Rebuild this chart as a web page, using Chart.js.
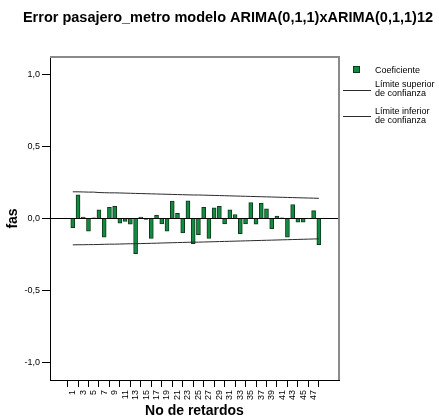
<!DOCTYPE html>
<html>
<head>
<meta charset="utf-8">
<script src="https://cdn.jsdelivr.net/npm/chart.js@4/dist/chart.umd.min.js"></script>
<style>
  html, body { margin: 0; padding: 0; background: #fff; }
  #wrap { width: 439px; height: 416px; position: relative; }
</style>
</head>
<body>
<div id="wrap"><canvas id="myChart" width="439" height="416"></canvas></div>
<script>
// DATA
var lags = [1, 2, 3, 4, 5, 6, 7, 8, 9, 10, 11, 12, 13, 14, 15, 16, 17, 18, 19, 20, 21, 22, 23, 24,
  25, 26, 27, 28, 29, 30, 31, 32, 33, 34, 35, 36, 37, 38, 39, 40, 41, 42, 43, 44, 45, 46, 47, 48];
var coefValues = [-0.064, 0.164, 0.010, -0.088, 0.004, 0.060, -0.130, 0.078, 0.085, -0.032, -0.020, -0.039,
  -0.244, 0.010, -0.007, -0.138, 0.023, -0.037, -0.088, 0.120, 0.035, -0.100, 0.122, -0.175,
  -0.113, 0.078, -0.138, 0.074, 0.085, -0.037, 0.060, 0.028, -0.106, -0.037, 0.110, -0.040,
  0.106, 0.067, -0.071, 0.016, 0.004, -0.130, 0.097, -0.025, -0.025, 0.003, 0.055, -0.182];
var upperValues = [0.185, 0.185, 0.184, 0.183, 0.183, 0.180, 0.179, 0.178, 0.178, 0.177, 0.176, 0.175,
  0.174, 0.173, 0.172, 0.171, 0.170, 0.169, 0.168, 0.167, 0.166, 0.165, 0.164, 0.163,
  0.163, 0.162, 0.161, 0.160, 0.159, 0.158, 0.157, 0.156, 0.155, 0.154, 0.153, 0.152,
  0.151, 0.150, 0.149, 0.148, 0.147, 0.146, 0.145, 0.144, 0.143, 0.142, 0.141, 0.140];
var lowerValues = [-0.183, -0.182, -0.182, -0.181, -0.181, -0.180, -0.179, -0.178, -0.178, -0.177, -0.176, -0.175,
  -0.175, -0.174, -0.173, -0.172, -0.171, -0.170, -0.169, -0.168, -0.167, -0.166, -0.165, -0.164,
  -0.164, -0.163, -0.162, -0.161, -0.160, -0.159, -0.158, -0.157, -0.156, -0.155, -0.154, -0.153,
  -0.152, -0.151, -0.150, -0.149, -0.148, -0.147, -0.146, -0.145, -0.144, -0.143, -0.142, -0.141];
var xTickLabels = [1, 3, 5, 7, 9, 11, 13, 15, 17, 19, 21, 23, 25, 27, 29, 31, 33, 35, 37, 39, 41, 43, 45, 47];
var yTickLabels = [-1.0, -0.5, 0.0, 0.5, 1.0];

var FONT = "'Liberation Sans', Arial, sans-serif";
var barFill = "#128a40";
var barEdge = "#0c3a1c";
var limitColor = "#2a2a2a";

function points(ys) {
  return lags.map(function (l, i) { return { x: l, y: ys[i] }; });
}

// TITLE, FRAME AND LEGEND
var extras = {
  id: "extras",
  afterDraw: function (chart) {
    var ctx = chart.ctx;
    var a = chart.chartArea;
    ctx.save();
    // title
    ctx.fillStyle = "#000";
    ctx.font = "bold 14.5px " + FONT;
    ctx.textAlign = "center";
    ctx.textBaseline = "middle";
    ctx.fillText("Error pasajero_metro modelo ARIMA(0,1,1)xARIMA(0,1,1)12", 228, 18);

    // top and right frame
    ctx.strokeStyle = "#8a8a8a";
    ctx.lineWidth = 2;
    ctx.beginPath();
    ctx.moveTo(a.left, a.top);
    ctx.lineTo(a.right, a.top);
    ctx.lineTo(a.right, a.bottom);
    ctx.stroke();

    // legend
    var ds = chart.data.datasets;
    ctx.font = "9px " + FONT;
    ctx.textAlign = "left";
    ctx.fillStyle = barFill;
    ctx.fillRect(353, 66, 7, 7);
    ctx.strokeStyle = barEdge;
    ctx.lineWidth = 1;
    ctx.strokeRect(353.5, 66.5, 6, 6);
    ctx.fillStyle = "#000";
    ctx.fillText(ds[0].label, 375, 71);

    var rows = [{ line: 90.5, text: [85, 94] }, { line: 116.5, text: [111.5, 120.5] }];
    rows.forEach(function (r, i) {
      ctx.strokeStyle = limitColor;
      ctx.beginPath();
      ctx.moveTo(343, r.line);
      ctx.lineTo(371, r.line);
      ctx.stroke();
      ds[i + 1].label.split("\n").forEach(function (t, j) {
        ctx.fillText(t, 375, r.text[j]);
      });
    });
    ctx.restore();
  }
};

new Chart("myChart", {
  data: {
    datasets: [
      {
        type: "bar",
        label: "Coeficiente",
        data: points(coefValues),
        backgroundColor: barFill,
        borderColor: barEdge,
        borderWidth: 1,
        barThickness: 4,
        order: 2
      },
      {
        type: "line",
        label: "Límite superior\nde confianza",
        data: points(upperValues),
        borderColor: limitColor,
        borderWidth: 1,
        pointRadius: 0,
        tension: 0,
        order: 1
      },
      {
        type: "line",
        label: "Límite inferior\nde confianza",
        data: points(lowerValues),
        borderColor: limitColor,
        borderWidth: 1,
        pointRadius: 0,
        tension: 0,
        order: 1
      }
    ]
  },
  options: {
    responsive: false,
    animation: false,
    layout: { padding: { top: 57, right: 100, left: 0, bottom: 0 } },
    plugins: {
      legend: { display: false },
      title: { display: false },
      tooltip: { enabled: false }
    },
    scales: {
      x: {
        type: "linear",
        min: -2.2,
        max: 50.7,
        afterBuildTicks: function (scale) {
          scale.ticks = xTickLabels.map(function (v) { return { value: v }; });
        },
        afterFit: function (scale) { scale.height = 36; },
        ticks: {
          autoSkip: false,
          maxRotation: 90,
          minRotation: 90,
          padding: 3,
          color: "#000",
          font: { family: FONT, size: 9 },
          callback: function (v) { return String(v); }
        },
        grid: { drawOnChartArea: false, tickLength: 7, tickColor: "#000" },
        border: { color: "#000", width: 1 },
        title: {
          display: true,
          text: "No de retardos",
          color: "#000",
          font: { family: FONT, size: 14, weight: "bold", lineHeight: 1 },
          padding: { top: 0, bottom: -2 }
        }
      },
      y: {
        min: -1.12,
        max: 1.12,
        afterBuildTicks: function (scale) {
          scale.ticks = yTickLabels.map(function (v) { return { value: v }; });
        },
        afterFit: function (scale) { scale.width = 50; },
        ticks: {
          padding: 2,
          color: "#000",
          font: { family: FONT, size: 9 },
          callback: function (v) {
            var s = Math.abs(v) < 1e-9 ? "0.0" : v.toFixed(1);
            return s.replace(".", ",");
          }
        },
        grid: {
          tickLength: 8,
          tickColor: "#000",
          color: function (c) { return c.tick && Math.abs(c.tick.value) < 1e-9 ? "#000" : "rgba(0,0,0,0)"; }
        },
        border: { color: "#000", width: 1 },
        title: {
          display: true,
          text: "fas",
          color: "#000",
          font: { family: FONT, size: 14, weight: "bold" },
          padding: { top: 5, bottom: 0 }
        }
      }
    }
  },
  plugins: [extras]
});
</script>
</body>
</html>
